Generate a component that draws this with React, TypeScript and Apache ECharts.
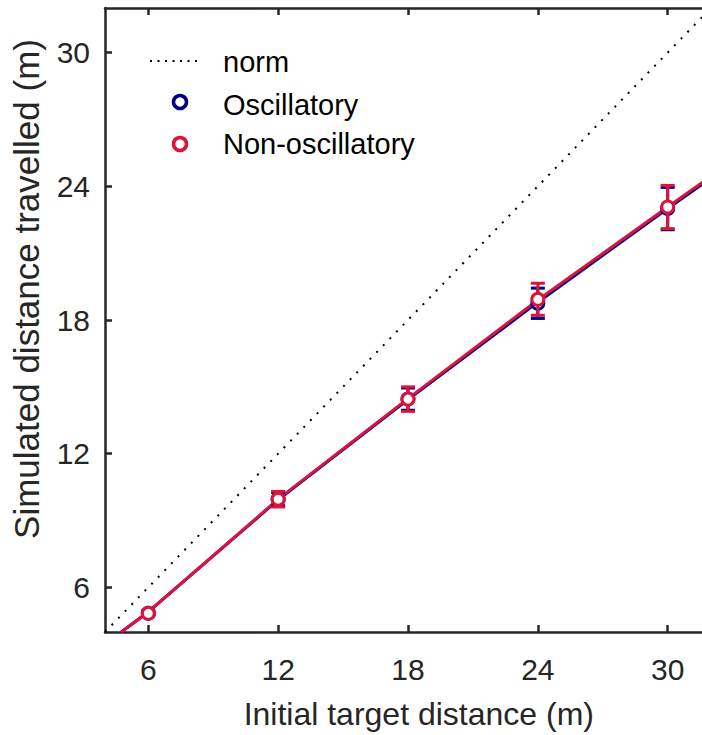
import React, { useEffect, useRef } from "react";
import * as echarts from "echarts";

const xTicks = [6, 12, 18, 24, 30];
const yTicks = [6, 12, 18, 24, 30];
const targets = [6, 12, 18, 24, 30];
const oscMean = [4.84, 9.96, 14.45, 18.75, 23.0];
const oscErr = [0.1, 0.3, 0.5, 0.68, 0.95];
const nonMean = [4.84, 9.96, 14.45, 18.93, 23.07];
const nonErr = [0.1, 0.35, 0.55, 0.72, 0.97];
const fitX = [4.75, 6, 12, 18, 24, 30, 33];
const oscFit = [4.0, 4.9, 9.93, 14.43, 18.8, 23.0, 25.05];
const nonFit = [4.0, 4.9, 9.96, 14.47, 18.9, 23.07, 25.15];
const normLine = [4, 33];

const BLUE = "#00008B";
const RED = "#DC143C";
const AX = "#262626";
const FONT = "Liberation Sans, Arial, Helvetica, sans-serif";

function errRender(color: string) {
  return (params: any, api: any) => {
    const x = api.value(0);
    const y = api.value(1);
    const e = api.value(2);
    const top = api.coord([x, y + e]);
    const bot = api.coord([x, y - e]);
    const hw = 7;
    const style = { stroke: color, lineWidth: 3 };
    return {
      type: "group",
      children: [
        { type: "line", shape: { x1: top[0], y1: top[1], x2: bot[0], y2: bot[1] }, style },
        { type: "line", shape: { x1: top[0] - hw, y1: top[1], x2: top[0] + hw, y2: top[1] }, style },
        { type: "line", shape: { x1: bot[0] - hw, y1: bot[1], x2: bot[0] + hw, y2: bot[1] }, style },
      ],
    };
  };
}

export default function App() {
  const ref = useRef<HTMLDivElement>(null);
  useEffect(() => {
    document.body.style.margin = "0";
    if (!ref.current) return;
    const chart = echarts.init(ref.current, undefined, { renderer: "svg" });
    const axisCommon = {
      type: "value" as const,
      min: 4,
      max: 33,
      splitLine: { show: false },
      axisLine: { show: true, lineStyle: { color: AX, width: 2.5 } },
    };
    const legendFont = 29;
    chart.setOption({
      animation: false,
      backgroundColor: "#fff",
      grid: { left: 105, top: 8, width: 627.6, height: 624, containLabel: false },
      xAxis: [
        {
          ...axisCommon,
          position: "bottom",
          name: "Initial target distance (m)",
          nameLocation: "middle",
          nameGap: 66,
          nameTextStyle: { fontSize: 32, color: AX, fontFamily: FONT },
          axisTick: { show: true, inside: true, length: 7, customValues: xTicks, lineStyle: { color: AX, width: 2.5 } },
          axisLabel: { show: true, customValues: xTicks, margin: 22, fontSize: 30, color: AX, fontFamily: FONT },
        },
        {
          ...axisCommon,
          position: "top",
          axisTick: { show: true, inside: true, length: 7, customValues: xTicks, lineStyle: { color: AX, width: 2.5 } },
          axisLabel: { show: false },
        },
      ],
      yAxis: [
        {
          ...axisCommon,
          max: 32,
          position: "left",
          axisTick: { show: true, inside: true, length: 7, customValues: yTicks, lineStyle: { color: AX, width: 2.5 } },
          axisLabel: { show: true, customValues: yTicks, margin: 15, fontSize: 30, color: AX, fontFamily: FONT },
        },
      ],
      series: [
        {
          name: "norm",
          type: "line",
          data: normLine.map((v) => [v, v]),
          symbol: "none",
          clip: true,
          lineStyle: { color: "#000", width: 2, type: [2, 7.5] },
          z: 1,
        },
        {
          name: "Oscillatory fit",
          type: "line",
          data: fitX.map((x, i) => [x, oscFit[i]]),
          symbol: "none",
          lineStyle: { color: BLUE, width: 3 },
          z: 2,
        },
        {
          name: "Non-oscillatory fit",
          type: "line",
          data: fitX.map((x, i) => [x, nonFit[i]]),
          symbol: "none",
          lineStyle: { color: RED, width: 3 },
          z: 3,
        },
        {
          name: "Oscillatory err",
          type: "custom",
          renderItem: errRender(BLUE),
          data: targets.map((x, i) => [x, oscMean[i], oscErr[i]]),
          z: 4,
        },
        {
          name: "Oscillatory",
          type: "scatter",
          data: targets.map((x, i) => [x, oscMean[i]]),
          symbol: "circle",
          symbolSize: 12,
          itemStyle: { color: "#fff", borderColor: BLUE, borderWidth: 3, opacity: 1 },
          z: 5,
        },
        {
          name: "Non-oscillatory err",
          type: "custom",
          renderItem: errRender(RED),
          data: targets.map((x, i) => [x, nonMean[i], nonErr[i]]),
          z: 6,
        },
        {
          name: "Non-oscillatory",
          type: "scatter",
          data: targets.map((x, i) => [x, nonMean[i]]),
          symbol: "circle",
          symbolSize: 12,
          itemStyle: { color: "#fff", borderColor: RED, borderWidth: 3, opacity: 1 },
          z: 7,
        },
      ],
      graphic: [
        {
          type: "text",
          x: 26,
          y: 289,
          rotation: Math.PI / 2,
          style: { text: "Simulated distance travelled (m)", fontSize: 35, fontFamily: FONT, fill: AX, align: "center", verticalAlign: "middle" },
        },
        { type: "line", shape: { x1: 150, y1: 61, x2: 200, y2: 61 }, style: { stroke: "#000", lineWidth: 2, lineDash: [2, 5.5] }, z: 10 },
        { type: "text", x: 223, y: 62, style: { text: "norm", fontSize: legendFont, fontFamily: FONT, fill: "#000", verticalAlign: "middle" }, z: 10 },
        { type: "circle", shape: { cx: 180, cy: 102, r: 6.5 }, style: { fill: "#fff", stroke: BLUE, lineWidth: 3.5 }, z: 10 },
        { type: "text", x: 223, y: 104.5, style: { text: "Oscillatory", fontSize: legendFont, fontFamily: FONT, fill: "#000", verticalAlign: "middle" }, z: 10 },
        { type: "circle", shape: { cx: 180, cy: 144, r: 6.5 }, style: { fill: "#fff", stroke: RED, lineWidth: 3.5 }, z: 10 },
        { type: "text", x: 223, y: 144, style: { text: "Non-oscillatory", fontSize: legendFont, fontFamily: FONT, fill: "#000", verticalAlign: "middle" }, z: 10 },
      ],
    });
    return () => chart.dispose();
  }, []);
  return (
    <div style={{ width: 702, height: 735, overflow: "hidden", position: "relative" }}>
      <div ref={ref} style={{ width: 760, height: 735 }} />
    </div>
  );
}
